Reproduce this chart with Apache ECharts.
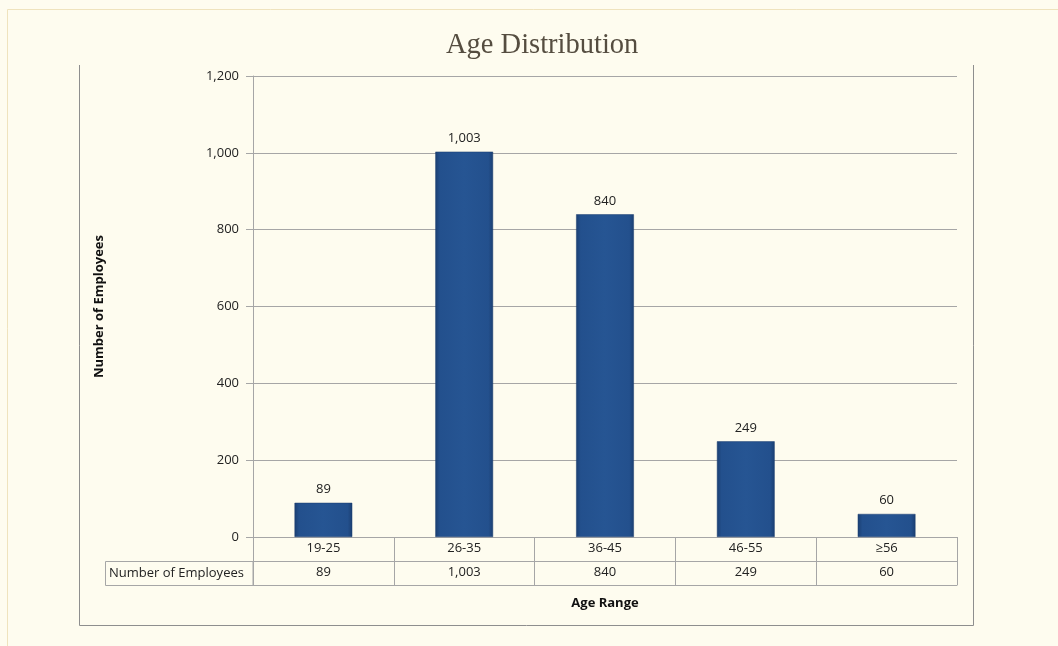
<!DOCTYPE html>
<html>
<head>
<meta charset="utf-8">
<script src="https://cdn.jsdelivr.net/npm/echarts@6/dist/echarts.min.js"></script>
<style>
html,body{margin:0;padding:0;background:#fefcef;}
#chart{width:1058px;height:646px;}
</style>
</head>
<body>
<div id="chart"></div>
<script>
const categories = ['19-25', '26-35', '36-45', '46-55', '≥56'];
const employees = [89, 1003, 840, 249, 60];
const yTicks = { min: 0, max: 1200, interval: 200 };
const titleText = 'Age Distribution';
const yTitle = 'Number of Employees';
const xTitle = 'Age Range';
const rowHeader = 'Number of Employees';

const fmt = v => Number(v).toLocaleString('en-US');
const lineColor = '#a6a6a6';
const textFont = 'Open Sans';
const fs = 13;

const G = { left: 253, right: 101, top: 76, bottom: 109 };
const W = 1058, H = 646;
const rowH = 24;

const chart = echarts.init(document.getElementById('chart'), null, { renderer: 'canvas' });

const barColor = {
  type: 'linear', x: 0, y: 0, x2: 1, y2: 0,
  colorStops: [
    { offset: 0, color: '#1b3f72' },
    { offset: 0.08, color: '#23508d' },
    { offset: 0.5, color: '#265593' },
    { offset: 0.92, color: '#23508d' },
    { offset: 1, color: '#1b3f72' }
  ]
};

const option = {
  backgroundColor: '#fefcef',
  animation: false,
  title: {
    text: titleText,
    left: 441,
    top: 26,
    textStyle: { fontFamily: 'Liberation Serif', fontSize: 28.5, fontWeight: 'normal', color: '#554d40' }
  },
  grid: { left: G.left, right: G.right, top: G.top, bottom: G.bottom, containLabel: false },
  xAxis: [
    {
      type: 'category', data: categories, position: 'bottom',
      axisLine: { show: true, lineStyle: { color: lineColor, width: 1 } },
      axisTick: { show: true, length: rowH * 2, lineStyle: { color: lineColor } },
      axisLabel: { margin: 5, fontFamily: textFont, fontSize: fs, color: '#222' },
      splitLine: { show: false }
    },
    {
      type: 'category', data: employees.map(fmt), position: 'bottom', offset: rowH,
      axisLine: { show: true, lineStyle: { color: lineColor, width: 1 } },
      axisTick: { show: false },
      axisLabel: { margin: 5, fontFamily: textFont, fontSize: fs, color: '#222' }
    },
    {
      type: 'category', data: categories, position: 'bottom', offset: rowH * 2,
      axisLine: { show: true, lineStyle: { color: lineColor, width: 1 } },
      axisTick: { show: false },
      axisLabel: { show: false },
      name: xTitle, nameLocation: 'middle', nameGap: 12,
      nameTextStyle: { fontFamily: textFont, fontSize: 13, fontWeight: 'bold', color: '#111' }
    }
  ],
  yAxis: {
    type: 'value', min: yTicks.min, max: yTicks.max, interval: yTicks.interval,
    axisLine: { show: true, lineStyle: { color: lineColor } },
    axisTick: { show: true, length: 7, lineStyle: { color: lineColor } },
    axisLabel: { margin: 14, formatter: fmt, fontFamily: textFont, fontSize: fs, color: '#222' },
    splitLine: { show: true, lineStyle: { color: lineColor, width: 1 } },
    name: yTitle, nameLocation: 'middle', nameGap: 147, nameRotate: 90,
    nameTextStyle: { fontFamily: textFont, fontSize: 13, fontWeight: 'bold', color: '#111' }
  },
  series: [{
    type: 'bar', data: employees, barWidth: '41%', xAxisIndex: 0,
    itemStyle: { color: barColor, borderColor: '#1a3d6e', borderWidth: 0.5 },
    label: { show: true, position: 'top', distance: 7, formatter: p => fmt(p.value), fontFamily: textFont, fontSize: fs, color: '#222' }
  }],
  graphic: [
    { type: 'rect', silent: true, shape: { x: 7.5, y: 9.5, width: W + 10, height: H + 10 }, style: { fill: null, stroke: '#efe3bd', lineWidth: 1 } },
    { type: 'polyline', silent: true, shape: { points: [[79.5, 65], [79.5, 625.5], [973.5, 625.5], [973.5, 65]] }, style: { fill: null, stroke: '#8e8e8e', lineWidth: 1 } },
    { type: 'rect', silent: true, shape: { x: 105.5, y: H - G.bottom + rowH + 0.5, width: G.left - 105.5, height: rowH }, style: { fill: null, stroke: lineColor, lineWidth: 1 } },
    { type: 'text', silent: true, x: 109, y: H - G.bottom + rowH * 1.5 + 0.5, style: { text: rowHeader, font: fs + 'px "Open Sans"', fill: '#222', textVerticalAlign: 'middle', verticalAlign: 'middle' } }
  ]
};
chart.setOption(option);
</script>
</body>
</html>
